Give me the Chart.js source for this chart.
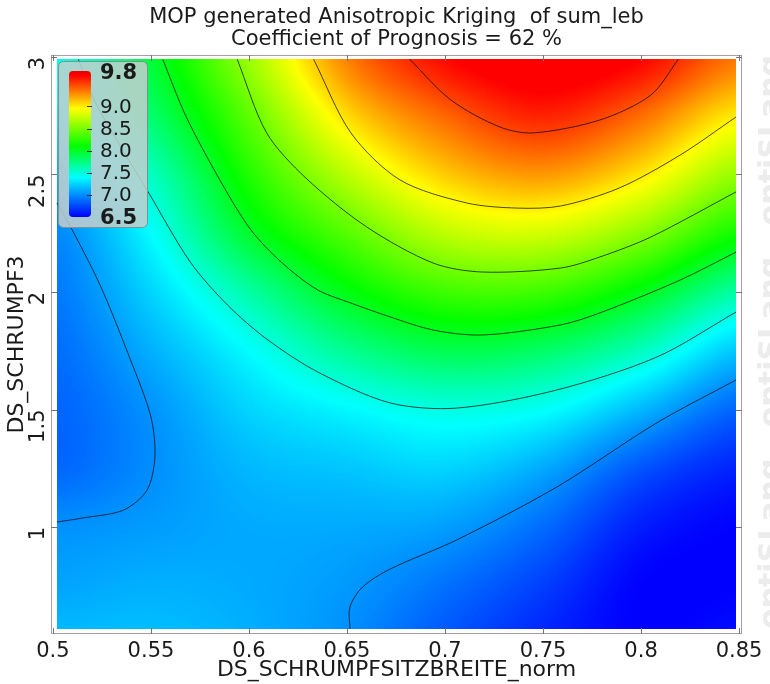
<!DOCTYPE html>
<html>
<head>
<meta charset="utf-8">
<script src="https://cdn.jsdelivr.net/npm/chart.js@4.4.1/dist/chart.umd.min.js"></script>
<style>
  html, body { margin: 0; padding: 0; background: #fff; }
  #wrap { width: 770px; height: 684px; }
</style>
</head>
<body>
<div id="wrap"><canvas id="krig"></canvas></div>
<script>
// kriging surface: rows follow gridY, columns follow gridX
const gridX = [0.50, 0.55, 0.60, 0.65, 0.70, 0.75, 0.80, 0.85];
const gridY = [3.0, 2.75, 2.5, 2.25, 2.0, 1.75, 1.5, 1.25, 1.0, 0.75, 0.5];
const sumLeb = [
  [7.45, 7.95, 8.62, 9.32, 9.68, 9.80, 9.70, 9.35],
  [7.30, 7.80, 8.41, 9.05, 9.40, 9.60, 9.38, 9.00],
  [7.12, 7.57, 8.20, 8.72, 9.10, 9.25, 9.02, 8.60],
  [6.97, 7.40, 7.98, 8.38, 8.73, 8.80, 8.56, 8.15],
  [6.92, 7.25, 7.65, 8.05, 8.30, 8.30, 8.04, 7.65],
  [6.88, 7.12, 7.40, 7.70, 7.88, 7.82, 7.58, 7.20],
  [6.85, 7.02, 7.25, 7.38, 7.48, 7.42, 7.15, 6.85],
  [6.86, 7.00, 7.15, 7.20, 7.25, 7.10, 6.80, 6.62],
  [7.01, 7.05, 7.10, 7.10, 7.06, 6.88, 6.60, 6.50],
  [7.08, 7.12, 7.10, 7.04, 6.90, 6.72, 6.50, 6.50],
  [7.17, 7.18, 7.12, 7.00, 6.80, 6.62, 6.50, 6.55]
];
const heatX = [0.502, 0.8485];
const heatY = [0.566, 2.99];

// contour lines (level 9.5 ... 7.0)
const c95X = [0.682, 0.703, 0.728, 0.745, 0.779, 0.805, 0.819];
const c95Y = [2.99, 2.817, 2.702, 2.677, 2.732, 2.838, 2.99];
const c90X = [0.633, 0.652, 0.677, 0.711, 0.737, 0.759, 0.789, 0.820, 0.8485];
const c90Y = [2.99, 2.677, 2.477, 2.379, 2.357, 2.366, 2.443, 2.583, 2.745];
const c85X = [0.594, 0.609, 0.629, 0.660, 0.694, 0.719, 0.759, 0.779, 0.805, 0.8485];
const c85Y = [2.99, 2.677, 2.485, 2.277, 2.123, 2.085, 2.102, 2.149, 2.234, 2.426];
const c80X = [0.556, 0.568, 0.586, 0.601, 0.617, 0.635, 0.652, 0.672, 0.694, 0.719, 0.759, 0.779, 0.820, 0.8485];
const c80Y = [2.99, 2.745, 2.464, 2.264, 2.123, 2.009, 1.953, 1.894, 1.838, 1.817, 1.860, 1.911, 2.051, 2.170];
const c75X = [0.513, 0.521, 0.534, 0.548, 0.570, 0.589, 0.609, 0.635, 0.672, 0.706, 0.757, 0.808, 0.8485];
const c75Y = [2.99, 2.817, 2.626, 2.434, 2.128, 1.945, 1.800, 1.660, 1.528, 1.506, 1.583, 1.723, 1.915];
const c70aX = [0.502, 0.509, 0.524, 0.539, 0.550, 0.552, 0.548, 0.536, 0.515, 0.502];
const c70aY = [2.379, 2.277, 2.030, 1.723, 1.468, 1.298, 1.157, 1.072, 1.038, 1.021];
const c70bX = [0.6515, 0.6515, 0.658, 0.672, 0.706, 0.757, 0.808, 0.8485];
const c70bY = [0.566, 0.660, 0.745, 0.821, 0.945, 1.170, 1.443, 1.626];

// colour scale
const cbarMin = 6.5;
const cbarMax = 9.8;
const cbarTicks = [9.0, 8.5, 8.0, 7.5, 7.0];
const cmapStops = [6.5, 7.4, 8.1, 8.95, 9.7];
const cmapRGB = [[0, 0, 255], [0, 255, 255], [0, 255, 0], [255, 255, 0], [255, 0, 0]];

const xTicks = [0.5, 0.55, 0.6, 0.65, 0.7, 0.75, 0.8, 0.85];
const yTicks = [1, 1.5, 2, 2.5, 3];

const titleLines = ["MOP generated Anisotropic Kriging  of sum_leb", "Coefficient of Prognosis = 62 %"];

const FONT = "'DejaVu Sans', Verdana, sans-serif";

function colourFor(v) {
  if (v <= cmapStops[0]) return cmapRGB[0];
  for (let i = 0; i < cmapStops.length - 1; i++) {
    if (v <= cmapStops[i + 1]) {
      const t = (v - cmapStops[i]) / (cmapStops[i + 1] - cmapStops[i]);
      const a = cmapRGB[i], b = cmapRGB[i + 1];
      return [a[0] + (b[0] - a[0]) * t, a[1] + (b[1] - a[1]) * t, a[2] + (b[2] - a[2]) * t];
    }
  }
  return cmapRGB[cmapRGB.length - 1];
}

function cr(p0, p1, p2, p3, t) {
  return 0.5 * (2 * p1 + (-p0 + p2) * t + (2 * p0 - 5 * p1 + 4 * p2 - p3) * t * t + (-p0 + 3 * p1 - 3 * p2 + p3) * t * t * t);
}

function surfaceAt(x, y) {
  const nx = gridX.length, ny = gridY.length;
  let fx = (x - gridX[0]) / (gridX[1] - gridX[0]);
  let fy = (y - gridY[0]) / (gridY[1] - gridY[0]);
  fx = Math.max(0, Math.min(nx - 1, fx));
  fy = Math.max(0, Math.min(ny - 1, fy));
  const i = Math.min(nx - 2, Math.floor(fx)), j = Math.min(ny - 2, Math.floor(fy));
  const tx = fx - i, ty = fy - j;
  const ci = k => Math.max(0, Math.min(nx - 1, k));
  const cj = k => Math.max(0, Math.min(ny - 1, k));
  const rows = [];
  for (let r = -1; r <= 2; r++) {
    const row = sumLeb[cj(j + r)];
    rows.push(cr(row[ci(i - 1)], row[ci(i)], row[ci(i + 1)], row[ci(i + 2)], tx));
  }
  return cr(rows[0], rows[1], rows[2], rows[3], ty);
}

let heatCache = null;
const heatmapPlugin = {
  id: "heatmap",
  beforeDatasetsDraw(chart) {
    const { ctx, scales: { x, y } } = chart;
    const left = Math.round(x.getPixelForValue(heatX[0]));
    const right = Math.round(x.getPixelForValue(heatX[1]));
    const top = Math.round(y.getPixelForValue(heatY[1]));
    const bottom = Math.round(y.getPixelForValue(heatY[0]));
    const w = right - left, h = bottom - top;
    const key = [left, top, w, h].join(",");
    if (!heatCache || heatCache.key !== key) {
      const off = document.createElement("canvas");
      off.width = w; off.height = h;
      const octx = off.getContext("2d");
      const img = octx.createImageData(w, h);
      for (let py = 0; py < h; py++) {
        const vy = y.getValueForPixel(top + py + 0.5);
        for (let px = 0; px < w; px++) {
          const vx = x.getValueForPixel(left + px + 0.5);
          const c = colourFor(surfaceAt(vx, vy));
          const k = (py * w + px) * 4;
          img.data[k] = c[0]; img.data[k + 1] = c[1]; img.data[k + 2] = c[2]; img.data[k + 3] = 255;
        }
      }
      octx.putImageData(img, 0, 0);
      heatCache = { key, off };
    }
    ctx.drawImage(heatCache.off, left, top);
  }
};

const framePlugin = {
  id: "frame",
  beforeDraw(chart) {
    const { ctx, width, height, chartArea: a } = chart;
    ctx.save();
    // faint watermark down the right edge
    ctx.translate(width + 2, height / 2);
    ctx.rotate(-Math.PI / 2);
    ctx.fillStyle = "#ececec";
    ctx.font = "bold 30px " + FONT;
    ctx.textAlign = "center";
    ctx.textBaseline = "middle";
    ctx.fillText("optiSLang   optiSLang   optiSLang", 0, 0);
    ctx.restore();

    // two-line title centred over the plot area
    ctx.save();
    ctx.fillStyle = "#1a1a1a";
    ctx.font = "21px " + FONT;
    ctx.textAlign = "center";
    ctx.textBaseline = "middle";
    const cx = (a.left + a.right) / 2;
    ctx.fillText(titleLines[0], cx, 18);
    ctx.fillText(titleLines[1], cx, 40);
    ctx.restore();
  },
  afterDraw(chart) {
    const { ctx, chartArea: a, scales: { x, y } } = chart;
    ctx.save();
    ctx.strokeStyle = "#a89ea2";
    ctx.lineWidth = 1;
    ctx.strokeRect(a.left + 0.5, a.top + 0.5, a.right - a.left - 1, a.bottom - a.top - 1);
    ctx.beginPath();
    x.ticks.forEach(t => {
      const px = Math.round(x.getPixelForValue(t.value)) + 0.5;
      ctx.moveTo(px, a.bottom); ctx.lineTo(px, a.bottom - 6);
      ctx.moveTo(px, a.top); ctx.lineTo(px, a.top + 6);
    });
    y.ticks.forEach(t => {
      const py = Math.round(y.getPixelForValue(t.value)) + 0.5;
      ctx.moveTo(a.left, py); ctx.lineTo(a.left + 6, py);
      ctx.moveTo(a.right, py); ctx.lineTo(a.right - 6, py);
    });
    ctx.strokeStyle = "#7a7275";
    ctx.stroke();

    // colour bar legend
    const bx = a.left + 7, by = a.top + 6, bw = 89, bh = 166;
    ctx.beginPath();
    ctx.roundRect(bx + 0.5, by + 0.5, bw, bh, 5);
    ctx.fillStyle = "rgba(196, 206, 206, 0.85)";
    ctx.fill();
    ctx.strokeStyle = "#7f9090";
    ctx.stroke();

    const gx = bx + 11, gw = 22, gTop = by + 10, gBot = by + 156;
    const grad = ctx.createLinearGradient(0, gBot, 0, gTop);
    cmapStops.forEach((s, i) => {
      const c = cmapRGB[i];
      grad.addColorStop((s - cbarMin) / (cbarMax - cbarMin), `rgb(${c[0]},${c[1]},${c[2]})`);
    });
    grad.addColorStop(1, "rgb(230,0,0)");
    ctx.beginPath();
    ctx.roundRect(gx, gTop, gw, gBot - gTop, 4);
    ctx.fillStyle = grad;
    ctx.fill();

    const valToY = v => gBot - (v - cbarMin) / (cbarMax - cbarMin) * (gBot - gTop);
    ctx.beginPath();
    cbarTicks.forEach(v => {
      const ty = Math.round(valToY(v)) + 0.5;
      ctx.moveTo(gx + gw - 4, ty); ctx.lineTo(gx + gw + 1, ty);
    });
    ctx.strokeStyle = "#333";
    ctx.stroke();

    ctx.fillStyle = "#1a1a1a";
    ctx.textAlign = "left";
    ctx.textBaseline = "middle";
    const lx = gx + gw + 9;
    ctx.font = "bold 21px " + FONT;
    ctx.fillText(cbarMax.toFixed(1), lx, valToY(cbarMax) + 3);
    ctx.fillText(cbarMin.toFixed(1), lx, valToY(cbarMin) + 2);
    ctx.font = "20px " + FONT;
    cbarTicks.forEach(v => ctx.fillText(v.toFixed(1), lx, valToY(v) + 1));
    ctx.restore();
  }
};

function contour(xs, ys) {
  return {
    data: xs.map((v, i) => ({ x: v, y: ys[i] })),
    showLine: true,
    borderColor: "rgba(0, 0, 0, 0.7)",
    borderWidth: 1,
    pointRadius: 0,
    tension: 0.3
  };
}

const ctx = document.getElementById("krig").getContext("2d");

new Chart(ctx, {
  type: "scatter",
  data: {
    datasets: [
      contour(c95X, c95Y),
      contour(c90X, c90Y),
      contour(c85X, c85Y),
      contour(c80X, c80Y),
      contour(c75X, c75Y),
      contour(c70aX, c70aY),
      contour(c70bX, c70bY)
    ]
  },
  options: {
    responsive: true,
    maintainAspectRatio: false,
    animation: false,
    layout: { padding: { left: 0, right: 28, top: 55, bottom: 0 } },
    plugins: {
      legend: { display: false },
      tooltip: { enabled: false },
      title: { display: false }
    },
    scales: {
      x: {
        type: "linear",
        min: 0.499,
        max: 0.8515,
        afterBuildTicks: scale => { scale.ticks = xTicks.map(v => ({ value: v })); },
        afterFit: scale => { scale.height = 50; },
        grid: { display: false },
        border: { display: false },
        ticks: {
          color: "#1a1a1a",
          font: { family: FONT, size: 21 },
          padding: -3,
          maxRotation: 0,
          callback: v => String(+v.toFixed(2))
        },
        title: {
          display: true,
          text: "DS_SCHRUMPFSITZBREITE_norm",
          color: "#1a1a1a",
          font: { family: FONT, size: 22, lineHeight: 1.25 },
          padding: 0
        }
      },
      y: {
        type: "linear",
        min: 0.5447,
        max: 3.0085,
        afterBuildTicks: scale => { scale.ticks = yTicks.map(v => ({ value: v })); },
        afterFit: scale => { scale.width = 51; },
        grid: { display: false },
        border: { display: false },
        ticks: {
          color: "#1a1a1a",
          font: { family: FONT, size: 21 },
          padding: 4,
          minRotation: 90,
          maxRotation: 90,
          callback: v => String(+v.toFixed(1))
        },
        title: {
          display: true,
          text: "DS_SCHRUMPF3",
          color: "#1a1a1a",
          font: { family: FONT, size: 22, lineHeight: 1.0 },
          padding: { top: 6, bottom: 0 }
        }
      }
    }
  },
  plugins: [heatmapPlugin, framePlugin]
});
</script>
</body>
</html>
